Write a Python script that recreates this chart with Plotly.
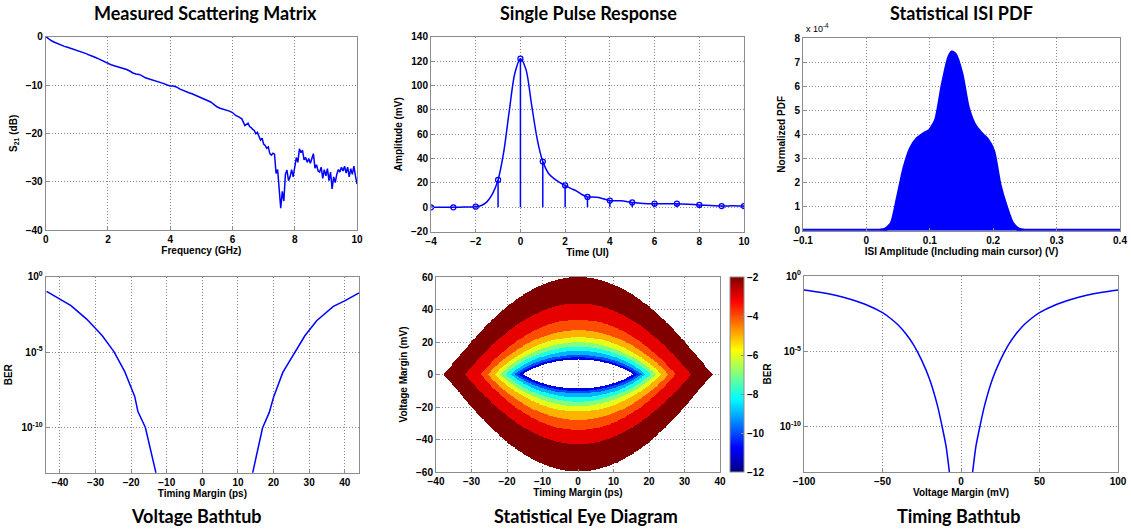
import numpy as np
import plotly.graph_objects as go

W, H = 1131, 531

# ---------------- data ----------------
# Measured scattering matrix (S21, dB)
s21_freq = [0.0, 0.1, 0.2, 0.3, 0.4, 0.5, 0.6, 0.7, 0.8, 0.9, 1.0, 1.1, 1.2, 1.3, 1.4, 1.5, 1.6, 1.7, 1.8, 1.9,
            2.0, 2.1, 2.2, 2.3, 2.4, 2.5, 2.6, 2.7, 2.8, 2.9, 3.0, 3.1, 3.2, 3.3, 3.4, 3.5, 3.6, 3.7, 3.8, 3.9,
            4.0, 4.1, 4.2, 4.3, 4.4, 4.5, 4.6, 4.7, 4.8, 4.9, 5.0, 5.1, 5.2, 5.3, 5.4, 5.5, 5.6, 5.7, 5.8, 5.9,
            6.0, 6.1, 6.2, 6.3, 6.4, 6.5, 6.55, 6.6, 6.65, 6.7, 6.75, 6.8, 6.85, 6.9, 6.95, 7.0, 7.05, 7.1, 7.15,
            7.2, 7.25, 7.3, 7.35, 7.4, 7.45, 7.5, 7.55, 7.6, 7.65, 7.7, 7.75, 7.8, 7.85, 7.9, 7.95, 8.0, 8.05,
            8.1, 8.15, 8.2, 8.25, 8.3, 8.35, 8.4, 8.45, 8.5, 8.55, 8.6, 8.65, 8.7, 8.75, 8.8, 8.85, 8.9, 8.95,
            9.0, 9.05, 9.1, 9.15, 9.2, 9.25, 9.3, 9.35, 9.4, 9.45, 9.5, 9.55, 9.6, 9.65, 9.7, 9.75, 9.8, 9.85,
            9.9, 9.95, 10.0]
s21_db = [0.0, -0.5, -0.9, -1.2, -1.5, -1.8, -2.0, -2.2, -2.4, -2.6, -2.9, -3.1, -3.3, -3.5, -3.8, -4.0, -4.3,
          -4.6, -4.9, -5.2, -5.6, -5.8, -6.0, -6.2, -6.3, -6.5, -6.8, -7.1, -7.5, -7.7, -7.8, -8.1, -8.5, -8.7,
          -8.9, -9.1, -9.3, -9.4, -9.7, -10.0, -10.2, -10.2, -10.4, -10.8, -11.1, -11.4, -11.6, -11.8, -12.1,
          -12.4, -12.6, -12.9, -13.3, -13.5, -14.0, -14.5, -14.8, -15.0, -15.1, -15.4, -15.7, -16.3, -16.6,
          -17.0, -18.4, -17.9, -18.6, -18.8, -19.2, -19.4, -20.1, -19.8, -20.6, -21.4, -21.0, -22.2, -22.5,
          -23.1, -22.8, -24.2, -24.5, -24.1, -24.3, -28.3, -27.5, -31.5, -35.5, -32.0, -34.0, -28.5, -27.6,
          -29.8, -29.0, -27.5, -29.0, -27.0, -25.0, -26.0, -23.2, -24.0, -23.5, -25.5, -25.0, -26.0, -25.2,
          -26.2, -25.0, -24.2, -27.2, -26.5, -27.8, -28.0, -27.0, -29.3, -27.5, -28.8, -27.3, -29.8, -28.0,
          -31.5, -29.0, -30.2, -28.5, -27.5, -28.0, -27.0, -27.8, -26.8, -28.2, -27.0, -29.0, -27.3, -28.5,
          -26.8, -28.8, -30.5]

# Single pulse response
pulse_t = [-4, -3.5, -3, -2.5, -2, -1.75, -1.5, -1.25, -1, -0.75, -0.5, -0.25, 0, 0.25, 0.5, 0.75, 1, 1.25,
           1.5, 1.75, 2, 2.25, 2.5, 2.75, 3, 3.25, 3.5, 3.75, 4, 4.5, 5, 5.5, 6, 6.5, 7, 7.5, 8, 8.5, 9, 9.5, 10]
pulse_mv = [0, 0, 0, 0.2, 0.5, 1.5, 4.5, 11, 22.5, 45, 79, 110, 122, 113, 84, 56, 37.5, 28, 23.5, 20.5, 18,
            15.5, 13.5, 10.5, 8.5, 8.5, 8.0, 6.8, 5.5, 5.3, 4.0, 3.2, 3.0, 3.0, 3.0, 2.6, 2.0, 1.6, 1.0, 1.2, 1.0]
stem_t = [-4, -3, -2, -1, 0, 1, 2, 3, 4, 5, 6, 7, 8, 9, 10]
stem_mv = [0, 0, 0.5, 22.5, 122, 37.5, 18, 8.5, 5.5, 4, 3, 3, 2, 1, 1]

# Statistical ISI PDF (x 1e-4)
isi_v = [-0.1, 0.0, 0.02, 0.03, 0.04, 0.05, 0.06, 0.07, 0.08, 0.09, 0.10, 0.11, 0.12, 0.13, 0.135, 0.14,
         0.15, 0.16, 0.17, 0.18, 0.19, 0.20, 0.21, 0.22, 0.23, 0.24, 0.25, 0.3, 0.4]
isi_pdf = [0, 0, 0, 0.05, 0.3, 1.4, 2.6, 3.4, 3.8, 4.0, 4.15, 4.6, 6.0, 7.15, 7.4, 7.3, 6.5, 5.1, 4.4,
           4.05, 3.8, 3.3, 1.9, 1.0, 0.3, 0.05, 0, 0, 0]

# Voltage bathtub (log10 BER vs timing margin)
vb_left_ps = [-43.75, -39.9, -36.9, -32.5, -29.9, -28.1, -24.8, -21.8, -19.0, -18.1, -16.0, -13.0]
vb_left_exp = [-0.97, -1.48, -1.92, -2.81, -3.43, -3.92, -4.98, -6.3, -7.94, -8.94, -10.0, -13.05]
vb_right_ps = [14.1, 16.9, 18.8, 20.0, 22.6, 26.0, 28.8, 32.1, 36.8, 40.1, 44.0]
vb_right_exp = [-13.05, -10.04, -9.0, -8.0, -6.35, -5.0, -3.92, -2.92, -1.97, -1.59, -1.08]

# Timing bathtub (log10 BER vs voltage margin)
tb_left_mv = [-100, -90, -80, -70, -60, -50, -45, -40, -35, -30, -25, -20, -15, -12, -9.5, -7.4]
tb_left_exp = [-0.93, -1.08, -1.28, -1.56, -1.92, -2.43, -2.8, -3.25, -3.85, -4.6, -5.6, -6.85, -8.6, -10.0,
               -11.3, -13.0]
tb_right_mv = [7.4, 9.5, 12, 15, 20, 25, 30, 35, 40, 45, 50, 60, 70, 80, 90, 100]
tb_right_exp = [-13.0, -11.3, -10.0, -8.6, -6.85, -5.6, -4.6, -3.85, -3.25, -2.8, -2.43, -1.92, -1.56, -1.28,
                -1.08, -0.93]

# Statistical eye: contour boundaries (outer -> inner) and band levels (log10 BER)
eye_band_level = [-2, -3, -4, -5, -6, -7, -8, -9, -10, -11]
eye_half_width = [38, 32, 27.5, 25.5, 23.5, 22, 20.5, 19, 17.8, 16.8, 15.5]
eye_top_mv = [60, 43.6, 33.7, 27.2, 23, 19.6, 17, 14.5, 12, 10.3, 9]
eye_bot_mv = [60, 43.0, 34.4, 28.2, 23, 19.6, 16.9, 14.3, 11.8, 10.2, 8.7]
eye_shape_exp = [1.12, 1.05, 1.0, 0.97, 0.95, 0.93, 0.91, 0.89, 0.87, 0.86, 0.85]

# ---------------- helpers ----------------
def xd(a, b):
    return [a / W, b / W]


def yd(top, bottom):
    return [1 - bottom / H, 1 - top / H]


BLUE = "#0000ff"
FAM = "Liberation Sans, Arial, sans-serif"
TICKFONT = dict(family=FAM, size=10, color="#000000", weight="bold")
TITLEFONT = dict(family=FAM, size=10, color="#000000", weight="bold")
GRID = "#8a8a8a"
LINE = "#8c8c8c"


def axis_style(**kw):
    d = dict(showline=True, linecolor=LINE, linewidth=1, mirror=True, showgrid=True, gridcolor=GRID,
             griddash="1px,2px", gridwidth=1, zeroline=False, ticks="inside", ticklen=3, tickcolor=LINE,
             tickfont=TICKFONT, automargin=False)
    d.update(kw)
    return d


fig = go.Figure()

# Panel 1
fig.add_trace(go.Scatter(x=s21_freq, y=s21_db, mode="lines", line=dict(color=BLUE, width=1.5),
                         xaxis="x", yaxis="y", showlegend=False))
# Panel 2
stem_x, stem_y = [], []
for t, v in zip(stem_t, stem_mv):
    stem_x += [t, t, None]
    stem_y += [0, v, None]
fig.add_trace(go.Scatter(x=stem_x, y=stem_y, mode="lines", line=dict(color=BLUE, width=1.5),
                         xaxis="x2", yaxis="y2", showlegend=False))
fig.add_trace(go.Scatter(x=pulse_t, y=pulse_mv, mode="lines", line=dict(color=BLUE, width=1.5, shape="spline",
                                                                        smoothing=0.8),
                         xaxis="x2", yaxis="y2", showlegend=False))
fig.add_trace(go.Scatter(x=stem_t, y=stem_mv, mode="markers",
                         marker=dict(symbol="circle-open", size=5, color=BLUE, line=dict(width=1.3, color=BLUE)),
                         xaxis="x2", yaxis="y2", showlegend=False))
# Panel 3
fig.add_trace(go.Scatter(x=isi_v, y=isi_pdf, mode="lines", fill="tozeroy", fillcolor=BLUE,
                         line=dict(color=BLUE, width=4, shape="spline", smoothing=0.6),
                         xaxis="x3", yaxis="y3", showlegend=False, cliponaxis=False))
# Panel 4
fig.add_trace(go.Scatter(x=vb_left_ps, y=[10 ** e for e in vb_left_exp], mode="lines",
                         line=dict(color=BLUE, width=1.5), xaxis="x4", yaxis="y4", showlegend=False))
fig.add_trace(go.Scatter(x=vb_right_ps, y=[10 ** e for e in vb_right_exp], mode="lines",
                         line=dict(color=BLUE, width=1.5), xaxis="x4", yaxis="y4", showlegend=False))
# Panel 6
fig.add_trace(go.Scatter(x=tb_left_mv, y=[10 ** e for e in tb_left_exp], mode="lines",
                         line=dict(color=BLUE, width=1.5, shape="spline", smoothing=0.6), xaxis="x6", yaxis="y6",
                         showlegend=False))
fig.add_trace(go.Scatter(x=tb_right_mv, y=[10 ** e for e in tb_right_exp], mode="lines",
                         line=dict(color=BLUE, width=1.5, shape="spline", smoothing=0.6), xaxis="x6", yaxis="y6",
                         showlegend=False))

# Panel 5: statistical eye bands
gx = np.arange(-40, 40.001, 0.25)
gy = np.arange(-60, 60.001, 0.3)
X, Y = np.meshgrid(gx, gy)
inside = []
for w, ht, hb, p in zip(eye_half_width, eye_top_mv, eye_bot_mv, eye_shape_exp):
    u = np.clip(1 - (X / w) ** 2, 0, None)
    bound = np.where(Y >= 0, ht, hb) * u ** p
    inside.append((np.abs(X) < w) & (np.abs(Y) <= bound))
Z = np.full(X.shape, np.nan)
for k, lev in enumerate(eye_band_level):
    Z[inside[k] & ~inside[k + 1]] = lev

jet = [[0.0, "rgb(0,0,128)"], [0.125, "rgb(0,0,255)"], [0.375, "rgb(0,255,255)"],
       [0.625, "rgb(255,255,0)"], [0.875, "rgb(255,0,0)"], [1.0, "rgb(128,0,0)"]]
fig.add_trace(go.Heatmap(x=gx, y=gy, z=Z, zmin=-12, zmax=-2, colorscale=jet, zsmooth=False,
                         xaxis="x5", yaxis="y5", hoverinfo="skip",
                         colorbar=dict(x=730 / W, xanchor="left", xref="paper", thickness=14, thicknessmode="pixels",
                                       y=1 - 374.5 / H, yanchor="middle", len=195 / H, lenmode="fraction",
                                       outlinecolor=LINE, outlinewidth=1, tickvals=[-2, -4, -6, -8, -10, -12],
                                       ticks="inside", ticklen=3, tickcolor=LINE, tickfont=TICKFONT, xpad=0,
                                       ypad=0)))

logticks = dict(tickvals=[1, 1e-5, 1e-10], ticktext=["10<sup>0</sup>", "10<sup>-5</sup>", "10<sup>-10</sup>"])

fig.update_layout(
    width=W, height=H, margin=dict(l=0, r=0, t=0, b=0, autoexpand=False),
    paper_bgcolor="white", plot_bgcolor="white",
    xaxis=axis_style(domain=xd(45.7, 357), range=[0, 10], dtick=2, anchor="y",
                     title=dict(text="Frequency (GHz)", font=TITLEFONT, standoff=2)),
    yaxis=axis_style(domain=yd(36.7, 230), range=[-40, 0], dtick=10, anchor="x",
                     title=dict(text="S<sub>21</sub> (dB)", font=TITLEFONT, standoff=6)),
    xaxis2=axis_style(domain=xd(431, 744), range=[-4, 10], dtick=2, anchor="y2",
                      title=dict(text="Time (UI)", font=TITLEFONT, standoff=2)),
    yaxis2=axis_style(domain=yd(36.7, 231.7), range=[-20, 140], dtick=20, anchor="x2",
                      title=dict(text="Amplitude (mV)", font=TITLEFONT, standoff=6)),
    xaxis3=axis_style(domain=xd(803, 1120), range=[-0.1, 0.4], dtick=0.1, anchor="y3",
                      title=dict(text="ISI Amplitude (Including main cursor) (V)", font=TITLEFONT, standoff=2)),
    yaxis3=axis_style(domain=yd(38, 230.7), range=[0, 8], dtick=1, anchor="x3",
                      title=dict(text="Normalized PDF", font=TITLEFONT, standoff=6)),
    xaxis4=axis_style(domain=xd(45.7, 359), range=[-44, 44], dtick=10, anchor="y4",
                      title=dict(text="Timing Margin (ps)", font=TITLEFONT, standoff=2)),
    yaxis4=axis_style(domain=yd(276.7, 472.7), type="log", range=[-13, 0], anchor="x4", **logticks,
                      title=dict(text="BER", font=TITLEFONT, standoff=6)),
    xaxis5=axis_style(domain=xd(436, 720), range=[-40, 40], dtick=10, anchor="y5",
                      title=dict(text="Timing Margin (ps)", font=TITLEFONT, standoff=2)),
    yaxis5=axis_style(domain=yd(277, 472), range=[-60, 60], dtick=20, anchor="x5",
                      title=dict(text="Voltage Margin (mV)", font=TITLEFONT, standoff=6)),
    xaxis6=axis_style(domain=xd(804, 1118), range=[-100, 100], dtick=50, anchor="y6",
                      title=dict(text="Voltage Margin (mV)", font=TITLEFONT, standoff=2)),
    yaxis6=axis_style(domain=yd(276, 472), type="log", range=[-13, 0], anchor="x6", **logticks,
                      title=dict(text="BER", font=TITLEFONT, standoff=6)),
)

TFONT = dict(family="Lato", size=18, color="#000000", weight="bold")
titles = [("Measured Scattering Matrix", 205, 13), ("Single Pulse Response", 588.5, 13),
          ("Statistical ISI PDF", 961.5, 13), ("Voltage Bathtub", 196.5, 516),
          ("Statistical Eye Diagram", 585.5, 516), ("Timing Bathtub", 958.5, 516)]
for txt, cx, cy in titles:
    fig.add_annotation(text=txt, x=cx / W, y=1 - cy / H, xref="paper", yref="paper", showarrow=False,
                       xanchor="center", yanchor="middle", font=TFONT)
fig.add_annotation(text="x 10<sup>-4</sup>", x=804 / W, y=1 - 36 / H, xref="paper", yref="paper",
                   showarrow=False, xanchor="left", yanchor="bottom",
                   font=dict(family=FAM, size=9, color="#000000"))

fig.write_html("out.html")
